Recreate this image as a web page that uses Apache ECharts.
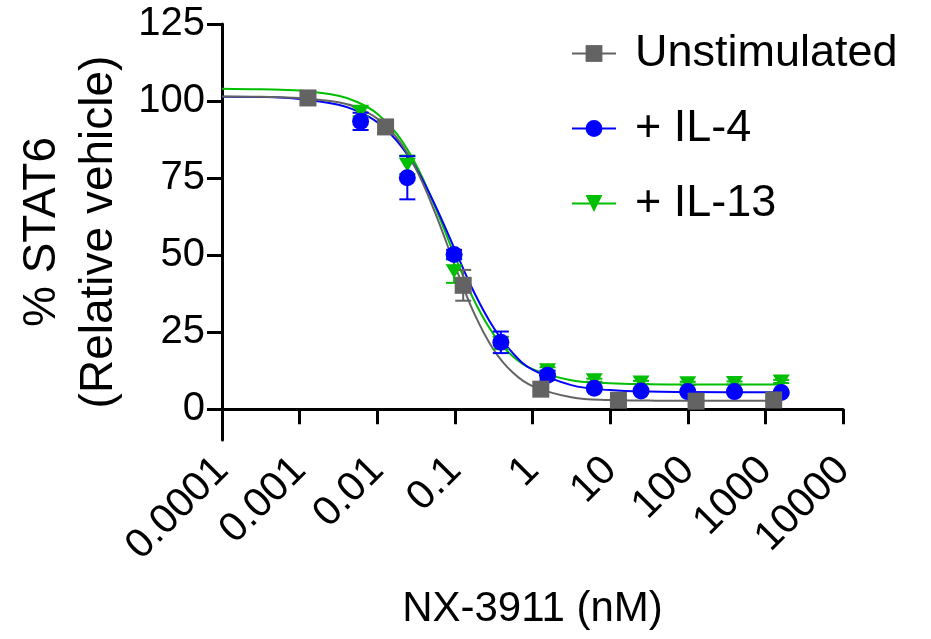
<!DOCTYPE html>
<html>
<head>
<meta charset="utf-8">
<title>STAT6 degradation</title>
<script src="https://cdn.jsdelivr.net/npm/echarts@6/dist/echarts.min.js"></script>
<style>
	html, body { margin: 0; padding: 0; background: #fff; }
	#chart { width: 931px; height: 639px; }
</style>
</head>
<body>
<div id="chart"></div>
<script>
// concentrations (nM)
const unstimX = [0.00128, 0.0128, 0.128, 1.28, 12.8, 128, 1280]
const unstimY = [101, 91.6, 40.2, 6.5, 2.9, 2.6, 3.0]
const unstimErr = [0.5, 2, 5, 0.5, 0.5, 0.5, 0.5]

const cytoX = [0.0061, 0.0244, 0.0977, 0.391, 1.5625, 6.25, 25, 100, 400, 1600]
const il4Y = [93.4, 75.1, 50.2, 21.7, 11.0, 6.8, 5.9, 5.7, 5.7, 5.4]
const il4Err = [2.8, 7, 1.5, 3.5, 1.5, 0.5, 0.5, 0.5, 0.5, 0.5]
const il13Y = [96.5, 79.3, 44.8, 21.5, 12.6, 9.4, 8.7, 8.4, 8.5, 9.0]
const il13Err = [1.5, 3, 3.8, 2, 1, 0.5, 0.5, 0.5, 0.5, 0.5]

// fitted curves
const curveX = [0.0001, 0.000316, 0.001, 0.00316, 0.00562, 0.01, 0.0178, 0.0316, 0.0562, 0.1, 0.178, 0.316, 0.562, 1, 3.16, 10, 31.6, 100, 1000, 1600]
const unstimFit = [101.5, 101.4, 101.0, 99.6, 97.8, 94.3, 88.1, 77.9, 63.5, 46.7, 31.0, 19.3, 11.8, 7.5, 3.9, 3.0, 2.8, 2.7, 2.7, 2.7]
const il4Fit = [101.4, 101.3, 100.7, 98.8, 96.7, 93.1, 87.2, 78.2, 66.0, 51.8, 37.8, 26.4, 18.1, 12.8, 7.8, 6.2, 5.7, 5.6, 5.5, 5.5]
const il13Fit = [104.0, 103.8, 103.4, 101.7, 99.6, 95.9, 89.4, 79.3, 65.4, 49.7, 35.2, 24.3, 17.1, 13.0, 9.4, 8.4, 8.1, 8.0, 8.0, 8.0]

const xTickLabels = ['0.0001', '0.001', '0.01', '0.1', '1', '10', '100', '1000', '10000']
const yTicks = [0, 25, 50, 75, 100, 125]

const GREY = '#636363'
const BLUE = '#0000ff'
const GREEN = '#00be00'
const FONT = 'Liberation Sans, Arial, sans-serif'

const zip = (xs, ys) => xs.map((x, i) => [x, ys[i]])
const zip3 = (xs, ys, es) => xs.map((x, i) => [x, ys[i], es[i]])

function errorBars(color) {
	return function (params, api) {
		const x = api.value(0)
		const y = api.value(1)
		const e = api.value(2)
		const top = api.coord([x, y + e])
		const bot = api.coord([x, y - e])
		const half = 8
		const style = { stroke: color, lineWidth: 2 }
		return {
			type: 'group',
			children: [
				{ type: 'line', shape: { x1: top[0], y1: top[1], x2: bot[0], y2: bot[1] }, style },
				{ type: 'line', shape: { x1: top[0] - half, y1: top[1], x2: top[0] + half, y2: top[1] }, style },
				{ type: 'line', shape: { x1: bot[0] - half, y1: bot[1], x2: bot[0] + half, y2: bot[1] }, style }
			]
		}
	}
}

function fitLine(data, color, z) {
	return {
		type: 'line',
		data: data,
		showSymbol: false,
		smooth: 0.4,
		silent: true,
		z: z,
		lineStyle: { color: color, width: 2 }
	}
}

function markers(name, data, color, symbol, size, rotate, z) {
	return {
		name: name,
		type: 'line',
		data: data,
		symbol: symbol,
		symbolSize: size,
		symbolRotate: rotate,
		showAllSymbol: true,
		z: z,
		itemStyle: { color: color, opacity: 1 },
		lineStyle: { width: 0, opacity: 0 }
	}
}

const chart = echarts.init(document.getElementById('chart'))
chart.setOption({
	animation: false,
	textStyle: { fontFamily: FONT },
	grid: { left: 222, right: 88, top: 24, bottom: 199, containLabel: false, outerBoundsMode: 'none' },
	legend: {
		orient: 'vertical',
		left: 566,
		top: 26,
		itemWidth: 44,
		itemHeight: 21,
		itemGap: 30,
		textStyle: { fontSize: 45, color: '#000', fontFamily: FONT, padding: [0, 0, 0, 14] },
		data: [
			{ name: 'Unstimulated', lineStyle: { color: GREY, width: 2, opacity: 1 } },
			{ name: '+ IL-4', lineStyle: { color: BLUE, width: 2, opacity: 1 } },
			{ name: '+ IL-13', lineStyle: { color: GREEN, width: 2, opacity: 1 } }
		]
	},
	xAxis: {
		type: 'log',
		logBase: 10,
		min: 0.0001,
		max: 10000,
		name: 'NX-3911 (nM)',
		nameLocation: 'middle',
		nameGap: 148,
		nameTextStyle: { fontSize: 42, color: '#000', fontFamily: FONT },
		axisLine: { lineStyle: { color: '#000', width: 3 } },
		axisTick: { length: 15, lineStyle: { color: '#000', width: 3 } },
		minorTick: { show: false },
		splitLine: { show: false },
		axisLabel: {
			rotate: 45,
			fontSize: 41,
			color: '#000',
			margin: 24,
			formatter: v => xTickLabels[Math.round(Math.log10(v)) + 4]
		}
	},
	yAxis: {
		type: 'value',
		min: -10,
		max: 125,
		name: '% STAT6\n(Relative vehicle)',
		nameLocation: 'middle',
		nameRotate: 90,
		nameGap: 86,
		nameTextStyle: { fontSize: 46, color: '#000', fontFamily: FONT, lineHeight: 57 },
		axisLine: { show: true, lineStyle: { color: '#000', width: 3 } },
		axisTick: { show: true, length: 15, customValues: yTicks, lineStyle: { color: '#000', width: 3 } },
		splitLine: { show: false },
		axisLabel: { fontSize: 40, color: '#000', margin: 17, customValues: yTicks }
	},
	series: [
		fitLine(zip(curveX, il13Fit), GREEN, 2),
		fitLine(zip(curveX, il4Fit), BLUE, 2),
		fitLine(zip(curveX, unstimFit), GREY, 2),
		{ type: 'custom', renderItem: errorBars(GREEN), data: zip3(cytoX, il13Y, il13Err), z: 3, silent: true },
		{ type: 'custom', renderItem: errorBars(BLUE), data: zip3(cytoX, il4Y, il4Err), z: 3, silent: true },
		{ type: 'custom', renderItem: errorBars(GREY), data: zip3(unstimX, unstimY, unstimErr), z: 3, silent: true },
		markers('Unstimulated', zip(unstimX, unstimY), GREY, 'rect', 17, 0, 6),
		markers('+ IL-4', zip(cytoX, il4Y), BLUE, 'circle', 17, 0, 5),
		markers('+ IL-13', zip(cytoX, il13Y), GREEN, 'triangle', [17, 14], 180, 4)
	]
})
</script>
</body>
</html>
